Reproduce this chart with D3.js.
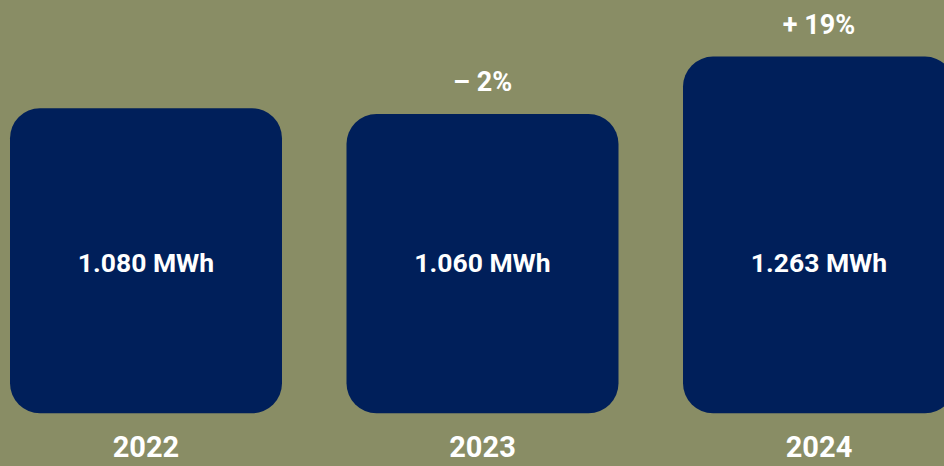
<!DOCTYPE html>
<html>
<head>
<meta charset="utf-8">
<script src="https://cdn.jsdelivr.net/npm/d3@7"></script>
<style>
  html, body { margin: 0; padding: 0; background: #898d65; }
  svg { display: block; }
  text { font-family: Roboto, "Noto Sans", sans-serif; font-weight: 700; fill: #ffffff; }
</style>
</head>
<body>
<svg id="chart" width="944" height="466"></svg>
<script>
const years = ["2022", "2023", "2024"];
const values = [1080, 1060, 1263];
const valueLabels = ["1.080 MWh", "1.060 MWh", "1.263 MWh"];
const changeLabels = ["", "\u2013 2%", "+ 19%"];

const W = 944, H = 466;
const svg = d3.select("#chart");

svg.append("rect").attr("width", W).attr("height", H).attr("fill", "#898d65");

const x = d3.scaleBand().domain(years).range([10, 955]).paddingInner(0.1917).paddingOuter(0);
const y = d3.scaleLinear().domain([0, 1080]).range([413.3, 108.3]);

const g = svg.append("g");

g.selectAll("rect.bar").data(years).join("rect")
  .attr("class", "bar")
  .attr("x", d => x(d))
  .attr("y", (d, i) => y(values[i]))
  .attr("width", x.bandwidth())
  .attr("height", (d, i) => y(0) - y(values[i]))
  .attr("rx", 30).attr("ry", 30)
  .attr("fill", "#001f5a");

g.selectAll("text.val").data(years).join("text")
  .attr("class", "val")
  .attr("x", d => x(d) + x.bandwidth() / 2)
  .attr("y", 272)
  .attr("text-anchor", "middle")
  .attr("font-size", 26.5)
  .text((d, i) => valueLabels[i]);

g.selectAll("text.year").data(years).join("text")
  .attr("class", "year")
  .attr("x", d => x(d) + x.bandwidth() / 2)
  .attr("y", 457)
  .attr("text-anchor", "middle")
  .attr("font-size", 29)
  .text(d => d);

g.selectAll("text.chg").data(years).join("text")
  .attr("class", "chg")
  .attr("x", d => x(d) + x.bandwidth() / 2)
  .attr("y", (d, i) => y(values[i]) - 22.5)
  .attr("text-anchor", "middle")
  .attr("font-size", 27)
  .text((d, i) => changeLabels[i]);
</script>
</body>
</html>
